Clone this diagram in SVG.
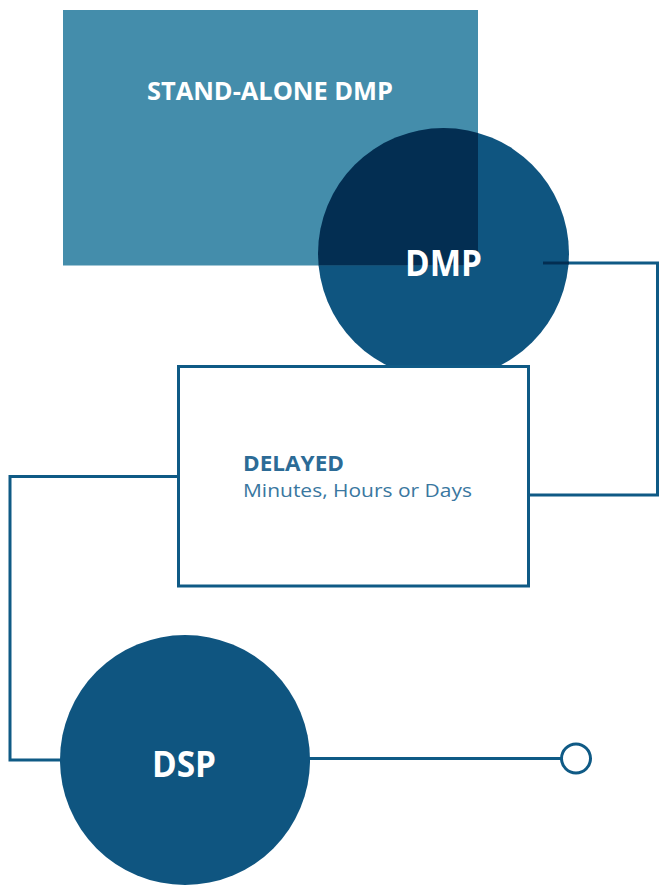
<svg xmlns="http://www.w3.org/2000/svg" width="659" height="886" viewBox="0 0 659 886">
<style>
.conn{fill:none;stroke:#0F5A85;stroke-width:3}
.lbl{font-family:"Open Sans","Liberation Sans",sans-serif;font-weight:700;fill:#FFFFFF;text-anchor:middle}
.big{fill:#0F5580}
</style>
<defs>
<clipPath id="dmpclip"><circle cx="443.5" cy="253.5" r="125.5"/></clipPath>
</defs>
<rect width="659" height="886" fill="#FFFFFF"/>
<g id="dmp">
<circle class="big" cx="443.5" cy="253.5" r="125.5"/>
</g>
<g id="standalone">
<rect x="63" y="10" width="415" height="255.5" fill="#448DAB"/>
<rect x="63" y="10" width="415" height="255.5" fill="#032E52" clip-path="url(#dmpclip)"/>
<text class="lbl" x="270" y="100" font-size="25" textLength="246" lengthAdjust="spacingAndGlyphs">STAND-ALONE DMP</text>
</g>
<g id="connectors">
<polyline class="conn" points="543,263 657.5,263 657.5,495 529,495"/>
<line x1="543" y1="263" x2="569" y2="263" stroke="#032E52" stroke-width="3"/>
<polyline class="conn" points="178,476.5 10,476.5 10,760 62,760"/>
<line class="conn" x1="308" y1="758.5" x2="561" y2="758.5"/>
<circle class="conn" cx="576" cy="758.5" r="14.5" fill="#FFFFFF"/>
</g>
<g id="dmp-label">
<text class="lbl" x="443.5" y="276" font-size="36" textLength="77" lengthAdjust="spacingAndGlyphs">DMP</text>
</g>
<g id="delayed">
<rect x="178.5" y="366.5" width="350" height="219.5" fill="#FFFFFF" stroke="#0F5A85" stroke-width="3"/>
<text x="243" y="471" font-family="'Open Sans','Liberation Sans',sans-serif" font-weight="700" font-size="22" fill="#2C6B96" textLength="101" lengthAdjust="spacingAndGlyphs">DELAYED</text>
<text x="243" y="497" font-family="'Open Sans','Liberation Sans',sans-serif" font-size="19" fill="#3A77A0" textLength="229" lengthAdjust="spacingAndGlyphs">Minutes, Hours or Days</text>
</g>
<g id="dsp">
<circle class="big" cx="185" cy="760" r="125"/>
<text class="lbl" x="184" y="777" font-size="36" textLength="64" lengthAdjust="spacingAndGlyphs">DSP</text>
</g>
</svg>
